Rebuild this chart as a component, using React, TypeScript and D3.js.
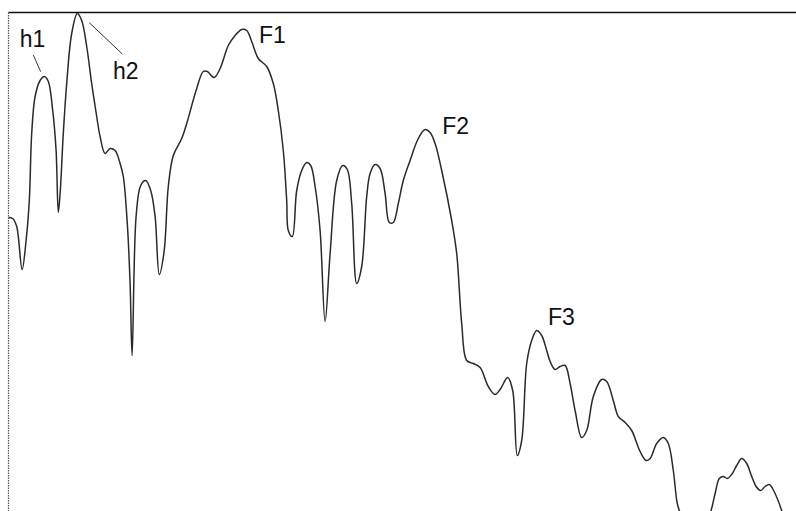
import React from "react";
import * as d3 from "d3";

// Spectrum: frequency (Hz) and level (dB relative to frame top)
const freqHz: number[] = [
  0, 21, 41, 68, 88, 104, 116, 133, 158, 179, 199, 221, 238, 249, 258, 274, 291, 316, 344, 366,
  391, 416, 441, 458, 483, 508, 533, 558, 574, 594, 608, 618, 638, 661, 686, 711, 733, 754, 778, 799,
  824, 866, 891, 941, 974, 994, 1028, 1058, 1099, 1133, 1166, 1191, 1216, 1249, 1291, 1324, 1349, 1374, 1391, 1399,
  1419, 1441, 1466, 1491, 1511, 1533, 1558, 1583, 1608, 1641, 1671, 1694, 1716, 1741, 1766, 1791, 1808, 1833, 1858, 1883,
  1904, 1924, 1949, 1974, 2008, 2049, 2083, 2108, 2133, 2166, 2216, 2241, 2266, 2291, 2324, 2358, 2399, 2433, 2458, 2496,
  2521, 2544, 2566, 2591, 2616, 2641, 2666, 2691, 2708, 2733, 2758, 2783, 2808, 2833, 2866, 2891, 2924, 2966, 2991, 3024,
  3049, 3083, 3116, 3158, 3188, 3208, 3241, 3274, 3299, 3324, 3344, 3363, 3433, 3508, 3533, 3554, 3574, 3594, 3616, 3641,
  3666, 3691, 3716, 3738, 3761, 3783, 3804, 3828, 3866, 3888, 3938,
];
const levelDb: number[] = [
  -20.5, -20.6, -21.4, -25.7, -22.8, -18.8, -12.1, -8.4, -6.8, -6.4, -6.9, -9.8, -13.8, -20.0, -18.1, -12.1, -7.1, -2.1, -0.1, -0.8,
  -3.4, -7.1, -10.4, -12.4, -14.1, -13.6, -13.8, -15.1, -16.4, -21.1, -27.1, -34.3, -20.4, -17.3, -16.8, -17.8, -20.4, -26.2, -23.9, -17.4,
  -14.3, -12.6, -11.1, -7.6, -5.9, -5.9, -6.5, -5.6, -3.3, -2.3, -1.7, -1.8, -2.9, -4.6, -5.4, -7.1, -9.8, -13.8, -18.8, -21.8,
  -22.4, -17.8, -15.8, -15.0, -15.3, -17.4, -21.8, -30.9, -24.1, -16.8, -15.3, -15.7, -19.1, -27.1, -25.4, -18.4, -16.1, -15.2, -15.6, -18.1,
  -21.0, -21.0, -19.1, -16.8, -14.8, -12.6, -11.7, -12.0, -13.1, -15.8, -20.8, -24.1, -31.1, -34.8, -35.1, -35.5, -37.4, -38.2, -37.7, -36.5,
  -37.8, -44.3, -42.8, -35.1, -32.8, -31.8, -32.3, -33.8, -34.9, -35.7, -35.4, -35.3, -37.1, -39.8, -42.5, -41.8, -38.4, -36.7, -36.9, -38.8,
  -40.4, -41.0, -41.8, -43.9, -44.8, -44.6, -43.1, -42.5, -43.1, -45.8, -49.1, -50.3, -53.3, -50.1, -48.1, -46.6, -46.4, -46.6, -46.2, -45.3,
  -44.6, -45.1, -46.4, -47.4, -47.8, -47.4, -47.2, -47.9, -49.8, -51.3, -52.3,
];

// Annotation labels (text anchor: left/baseline)
const labelText: string[] = ["h1", "h2", "F1", "F2", "F3"];
const labelHz: number[] = [56, 522, 1252, 2169, 2697];
const labelDb: number[] = [-3.4, -6.65, -3.08, -12.18, -31.25];

// Leader lines (from -> to)
const leaderHz1: number[] = [124, 404];
const leaderDb1: number[] = [-4.25, -1.02];
const leaderHz2: number[] = [161, 569];
const leaderDb2: number[] = [-5.92, -4.15];

const W = 796;
const H = 511;

export default function App() {
  const x = d3.scaleLinear().domain([0, 3940]).range([8.5, 796.5]);
  const y = d3.scaleLinear().domain([0, -50]).range([12.5, 512.5]);
  const pts = freqHz.map((f, i) => [f, levelDb[i]] as [number, number]);
  const line = d3
    .line<[number, number]>()
    .x((d) => x(d[0]))
    .y((d) => y(d[1]))
    .curve(d3.curveCatmullRom.alpha(0.5));

  return (
    <div style={{ position: "fixed", left: 0, top: 0, width: W, height: H, background: "#fff" }}>
      <svg width={W} height={H} style={{ display: "block" }}>
        <defs>
          <clipPath id="plot">
            <rect x={x(0)} y={y(0)} width={W - x(0)} height={H - y(0)} />
          </clipPath>
        </defs>
        <rect x={0} y={0} width={W} height={H} fill="#fff" />
        <line x1={x(0)} x2={W} y1={y(0)} y2={y(0)} stroke="#111" strokeWidth={1.5} />
        <line
          x1={x(0)}
          x2={x(0)}
          y1={y(0)}
          y2={H}
          stroke="#555"
          strokeWidth={1.2}
          strokeDasharray="1.5,1"
        />
        <path
          d={line(pts) || ""}
          fill="none"
          stroke="#2a2a2a"
          strokeWidth={1.5}
          strokeLinejoin="round"
          clipPath="url(#plot)"
        />
        {leaderHz1.map((f, i) => (
          <line
            key={"l" + i}
            x1={x(f)}
            y1={y(leaderDb1[i])}
            x2={x(leaderHz2[i])}
            y2={y(leaderDb2[i])}
            stroke="#333"
            strokeWidth={1}
          />
        ))}
        {labelText.map((t, i) => (
          <text
            key={t}
            x={x(labelHz[i])}
            y={y(labelDb[i])}
            fontFamily="'Liberation Sans', Arial, Helvetica, sans-serif"
            fontSize={23}
            fill="#111"
          >
            {t}
          </text>
        ))}
      </svg>
    </div>
  );
}
